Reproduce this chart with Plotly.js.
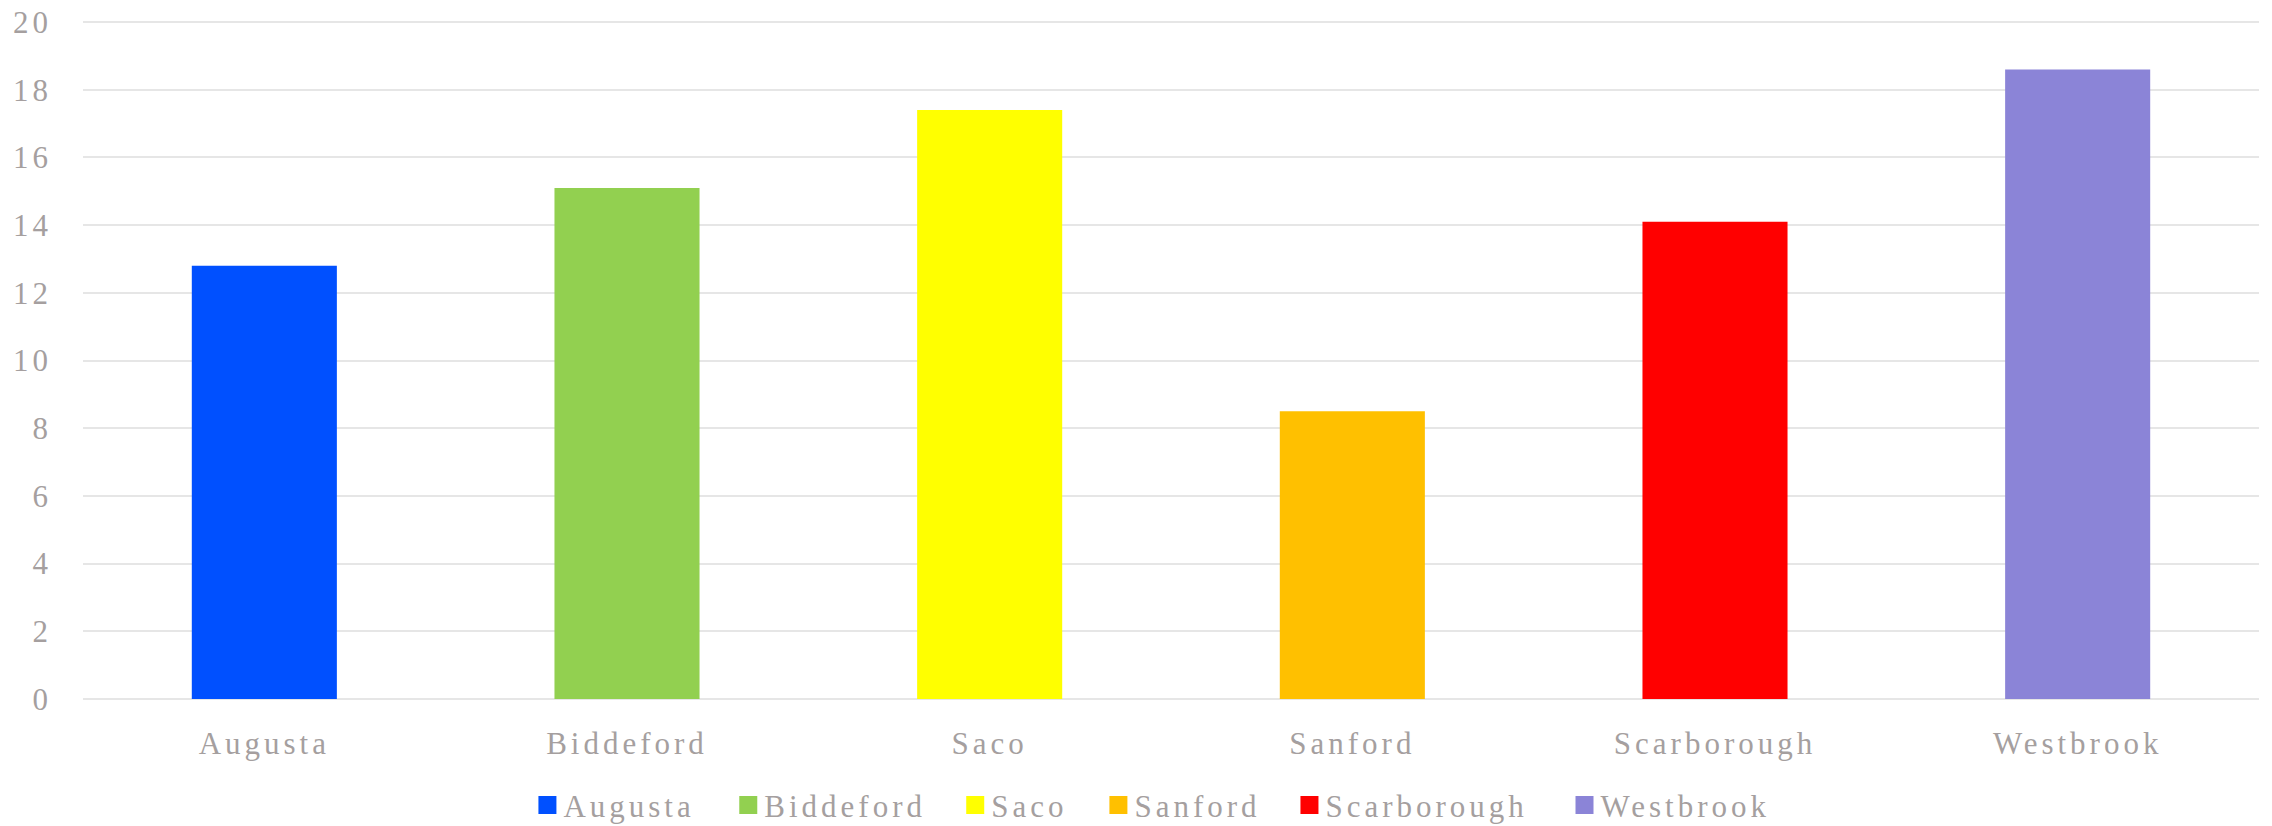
<!DOCTYPE html>
<html>
<head>
<meta charset="utf-8">
<script src="https://cdn.plot.ly/plotly-3.0.1.min.js"></script>
<style>
  html, body { margin: 0; padding: 0; background: #ffffff; }
  #chart { width: 2272px; height: 826px; }
  svg text { letter-spacing: 4px; }
  .legendpoints path { transform: translate(24px, 0px) scale(1.5) !important; }
</style>
</head>
<body>
<div id="chart"></div>
<script>
const categories = ["Augusta", "Biddeford", "Saco", "Sanford", "Scarborough", "Westbrook"];
const values = [12.8, 15.1, 17.4, 8.5, 14.1, 18.6];
const colors = ["#0050FF", "#92D050", "#FFFF00", "#FFC000", "#FF0000", "#8B84D7"];
const yTickValues = [0, 2, 4, 6, 8, 10, 12, 14, 16, 18, 20];

// legend entry left positions (paper fraction of plot width)
const legendX = [0.2024, 0.2947, 0.3990, 0.4648, 0.5526, 0.6790];

const textColor = "#A59F9F";
const fontFamily = "'Liberation Serif', 'Times New Roman', serif";
const legendIds = ["legend", "legend2", "legend3", "legend4", "legend5", "legend6"];

const traces = categories.map((name, i) => ({
  type: "bar",
  name: name,
  x: [name],
  y: [values[i]],
  marker: { color: colors[i] },
  legend: legendIds[i],
  hoverinfo: "x+y"
}));

const layout = {
  width: 2272,
  height: 826,
  margin: { l: 83, r: 13, t: 21, b: 127 },
  paper_bgcolor: "#ffffff",
  plot_bgcolor: "#ffffff",
  barmode: "overlay",
  bargap: 0.6,
  font: { family: fontFamily, size: 31, color: textColor },
  xaxis: {
    categoryorder: "array",
    categoryarray: categories,
    showgrid: false,
    showline: false,
    zeroline: false,
    ticks: "",
    automargin: false,
    ticklabelstandoff: 23,
    tickfont: { family: fontFamily, size: 31, color: textColor }
  },
  yaxis: {
    range: [0, 20.03],
    tickvals: yTickValues,
    ticktext: yTickValues.map(String),
    showgrid: true,
    gridcolor: "#E6E6E6",
    gridwidth: 2,
    zeroline: true,
    zerolinecolor: "#E6E6E6",
    zerolinewidth: 2,
    showline: false,
    ticks: "",
    automargin: false,
    ticklabelstandoff: 30,
    tickfont: { family: fontFamily, size: 31, color: textColor }
  },
  showlegend: true
};

legendIds.forEach((id, i) => {
  layout[id] = {
    orientation: "h",
    xref: "paper",
    x: legendX[i],
    xanchor: "left",
    yref: "container",
    y: 0.025,
    yanchor: "middle",
    bgcolor: "rgba(0,0,0,0)",
    font: { family: fontFamily, size: 31, color: textColor },
    itemclick: false,
    itemdoubleclick: false
  };
});

Plotly.newPlot("chart", traces, layout, { displayModeBar: false, staticPlot: true });
</script>
</body>
</html>
